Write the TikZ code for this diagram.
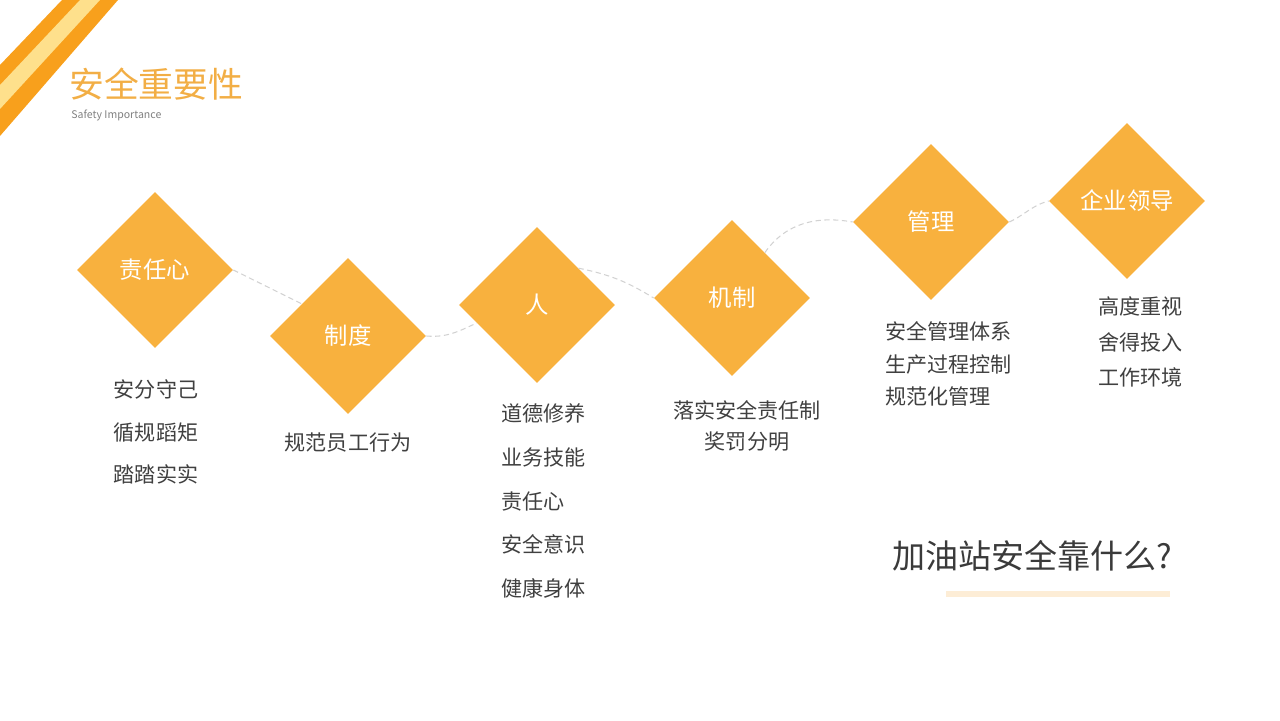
\documentclass[tikz,border=0pt]{standalone}
\usepackage{fontspec}
\usetikzlibrary{shapes.geometric, calc}
\newfontfamily\cjk{Noto Sans CJK SC}
\definecolor{zorange}{HTML}{F8B13E}
\definecolor{stripe}{HTML}{F8A01C}
\definecolor{stripey}{HTML}{FEE08C}
\definecolor{titlec}{HTML}{F2AE45}
\definecolor{lineg}{HTML}{D2D2D2}
\definecolor{textg}{HTML}{404040}
\definecolor{barc}{HTML}{FDEDD6}

\begin{document}
\begin{tikzpicture}[x=0.02cm, y=0.02cm,
    kuai/.style={diamond, fill=zorange, minimum width=3.12cm, minimum height=3.12cm, inner sep=0pt, text=white, font=\cjk\fontsize{13.3}{15}\selectfont},
    xian/.style={densely dashed, line width=0.6pt, draw=lineg},
    liebiao/.style={text=textg, inner sep=0pt, font=\cjk\fontsize{12}{#1}\selectfont}]
        \useasboundingbox (0, 0) rectangle (1280, 720);

        % corner stripes
        \fill[stripe] (62, 720) -- (118, 720) -- (0, 584) -- (0, 655) -- cycle;
        \fill[stripey] (80, 720) -- (100, 720) -- (0, 611) -- (0, 635) -- cycle;

        \node[anchor=west, inner sep=0pt, text=titlec, font=\cjk\fontsize{19.8}{22}\selectfont] (biaoti) at (69, 636) {安全重要性};
        \node[anchor=west, inner sep=0pt, text=gray, font=\cjk\fontsize{6}{7}\selectfont] (fubiaoti) at (71, 605) {Safety Importance};

        \node[kuai] (zr) at (155, 450) {责任心};
        \node[kuai] (zd) at (348, 384) {制度};
        \node[kuai] (zp) at (537, 415) {人};
        \node[kuai] (zj) at (732, 422) {机制};
        \node[kuai] (zg) at (931, 498) {管理};
        \node[kuai] (zl) at (1127, 519) {企业领导};

        \draw[xian] (zr.east) -- ($(zd.west)!0.41!(zd.north)$);
        \draw[xian] (zd.east) to[out=-5, in=205] ($(zp.west)!0.23!(zp.south)$);
        \draw[xian] ($(zp.north)!0.53!(zp.east)$) to[bend left=10] (zj.west);
        \draw[xian] ($(zj.north)!0.42!(zj.east)$) to[out=55, in=170] (zg.west);
        \draw[xian] (zg.east) to[out=25, in=195] (zl.west);

        \node[liebiao=24.4, align=center] (lr) at (156, 288) {安分守己\\循规蹈矩\\踏踏实实};
        \node[liebiao=20, align=center] (ld) at (348, 277) {规范员工行为};
        \node[liebiao=24.9, align=left, anchor=west] (lp) at (501, 219) {道德修养\\业务技能\\责任心\\安全意识\\健康身体};
        \node[liebiao=17.6, align=center] (lj) at (747, 294) {落实安全责任制\\奖罚分明};
        \node[liebiao=18.4, align=left, anchor=west] (lg) at (885, 356) {安全管理体系\\生产过程控制\\规范化管理};
        \node[liebiao=20.4, align=left, anchor=west] (ll) at (1098, 378) {高度重视\\舍得投入\\工作环境};

        \node[anchor=west, inner sep=0pt, text=textg!90!black, font=\cjk\fontsize{18.8}{22}\selectfont] (wenti) at (892, 164) {加油站安全靠什么?};
        \fill[barc] (946, 123) rectangle (1170, 129);
    \end{tikzpicture}
\end{document}
